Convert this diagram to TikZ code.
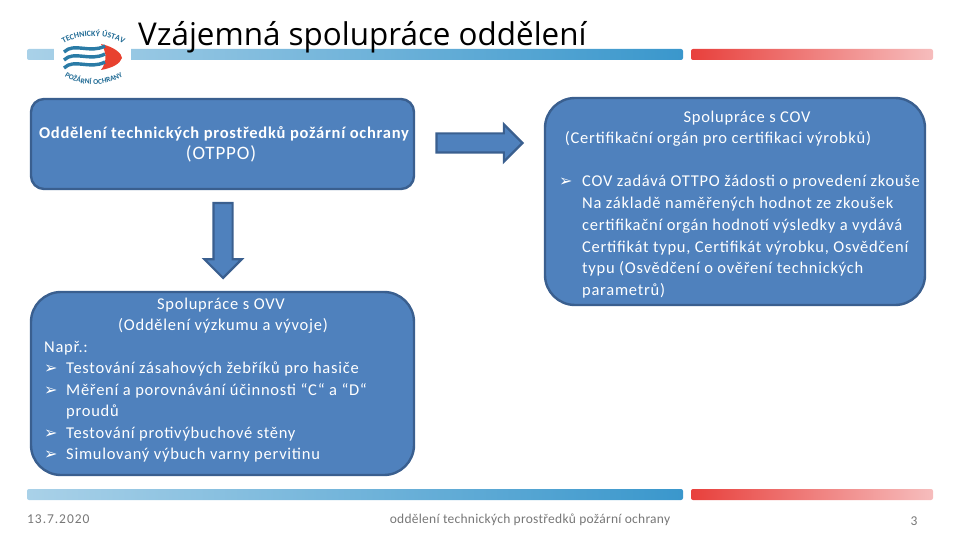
\documentclass[tikz,border=0pt]{standalone}
\usepackage{fontspec}
\setmainfont[LetterSpace=4.5]{Carlito}
\newfontfamily\titlef{Open Sans}
\newfontfamily\bulf{DejaVu Sans}
\newfontfamily\footf[LetterSpace=2]{Carlito}
\newfontfamily\datef[LetterSpace=7]{Carlito}
\usetikzlibrary{shapes.arrows,decorations.text}
\definecolor{boxfill}{HTML}{4F81BD}
\definecolor{boxline}{HTML}{3A5F8F}
\definecolor{barA}{HTML}{A9D1E8}
\definecolor{barB}{HTML}{3A97CC}
\definecolor{redA}{HTML}{E8403C}
\definecolor{redB}{HTML}{F6BDBD}
\definecolor{logoblue}{HTML}{2A7BA6}
\definecolor{logotext}{HTML}{1F6A94}
\definecolor{logored}{HTML}{E8412F}
\definecolor{foot}{HTML}{777777}
\tikzset{
  x=1pt,y=-1pt,
  panel/.style={draw=boxline,line width=2.4pt,fill=boxfill},
  blockarrow/.style={single arrow,draw=boxline,line width=2.2pt,fill=boxfill,inner sep=8.5pt,single arrow head extend=9pt,single arrow tip angle=90,minimum width=36pt,anchor=tip},
  tx/.style={text=white,font=\fontsize{16.5}{18}\selectfont,inner sep=0pt,anchor=base west},
  cx/.style={text=white,font=\fontsize{16.5}{18}\selectfont,inner sep=0pt,anchor=base},
  bul/.style={text=white,font=\bulf\fontsize{16}{18}\selectfont,inner sep=0pt,anchor=base west},
  bar/.style={rounded corners=2pt},
  ft/.style={text=foot,font=\footf\fontsize{13.5}{16}\selectfont,inner sep=0pt,anchor=base},
}
\begin{document}
\begin{tikzpicture}
\useasboundingbox (0,0) rectangle (960,540);
% bars
\shade[bar,left color=barA,right color=barB] (27,49) rectangle (683,60);
\shade[bar,left color=redA,right color=redB] (691,49) rectangle (933,60);
\shade[bar,left color=barA,right color=barB] (27,489) rectangle (683,500);
\shade[bar,left color=redA,right color=redB] (691,489) rectangle (933,500);
% logo
\fill[white] (54,40) rectangle (131,90);
\fill[logored] (101,44) .. controls (115,47) and (122,54) .. (122,58) .. controls (120,64) and (112,68) .. (101,70) .. controls (107,62) and (107,52) .. (101,44) -- cycle;
\foreach \d in {0,8,16}{
  \draw[logoblue,line width=3.4pt] (64,{52+\d}) .. controls (74,{42+\d}) and (90,{54+\d}) .. (105,{46+\d});
}
\path[decorate,decoration={text along path,text={|\fontsize{8}{8}\selectfont\bfseries\color{logotext}|TECHNICKÝ ÚSTAV},text align=center}] (57,50) .. controls (70,32) and (116,32) .. (130,50);
\path[decorate,decoration={text along path,text={|\fontsize{7.4}{8}\selectfont\bfseries\color{logotext}|POŽÁRNÍ OCHRANY},text align=center}] (58,70) .. controls (70,89) and (116,89) .. (130,70);
% title
\node[anchor=base west,inner sep=0pt,font=\titlef\fontsize{31.4}{36}\selectfont] (title) at (138,46) {Vzájemná spolupráce oddělení};
% panels
\draw[panel,rounded corners=13pt] (31,99) rectangle (414,189);
\draw[panel,rounded corners=30pt] (545,98) rectangle (925,305);
\draw[panel,rounded corners=30pt] (31,292) rectangle (414,475);
% block arrows
\node[blockarrow,minimum height=86pt] (ra) at (524,143) {};
\node[blockarrow,minimum height=75pt,shape border rotate=270] (da) at (223,279.5) {};
% panel 1
\node[cx,font=\fontsize{16.5}{18}\selectfont\bfseries] (p1a) at (224,139) {Oddělení technických prostředků požární ochrany};
\node[cx,font=\fontsize{19}{20}\selectfont] (p1b) at (221,160) {(OTPPO)};
% panel 2
\node[cx] (p2a) at (747,123) {Spolupráce s COV};
\node[cx] (p2b) at (718,144) {(Certifikační orgán pro certifikaci výrobků)};
\node[bul] (b0) at (559,186) {➢};
\node[tx] (l1) at (582,186) {COV zadává OTTPO žádosti o provedení zkouše};
\node[tx] (l2) at (582,208) {Na základě naměřených hodnot ze zkoušek};
\node[tx] (l3) at (582,230) {certifikační orgán hodnotí výsledky a vydává};
\node[tx] (l4) at (582,252) {Certifikát typu, Certifikát výrobku, Osvědčení};
\node[tx] (l5) at (582,273) {typu (Osvědčení o ověření technických};
\node[tx] (l6) at (582,295) {parametrů)};
% panel 3
\node[cx] (p3a) at (221,309) {Spolupráce s OVV};
\node[cx] (p3b) at (223,330) {(Oddělení výzkumu a vývoje)};
\node[tx] (n0) at (44,352) {Např.:};
\node[bul] (b1) at (44,373) {➢};
\node[tx] (n1) at (66,373) {Testování zásahových žebříků pro hasiče};
\node[bul] (b2) at (44,395) {➢};
\node[tx] (n2) at (66,395) {Měření a porovnávání účinnosti “C“ a “D“};
\node[tx] (n2b) at (66,416) {proudů};
\node[bul] (b3) at (44,438) {➢};
\node[tx] (n3) at (66,438) {Testování protivýbuchové stěny};
\node[bul] (b4) at (44,459) {➢};
\node[tx] (n4) at (66,459) {Simulovaný výbuch varny pervitinu};
% footer
\node[ft,anchor=base west,font=\datef\fontsize{13.5}{16}\selectfont] (fd) at (27,523) {13.7.2020};
\node[ft] (fc) at (530,523) {oddělení technických prostředků požární ochrany};
\node[ft] (fn) at (914,525) {3};
\end{tikzpicture}
\end{document}
